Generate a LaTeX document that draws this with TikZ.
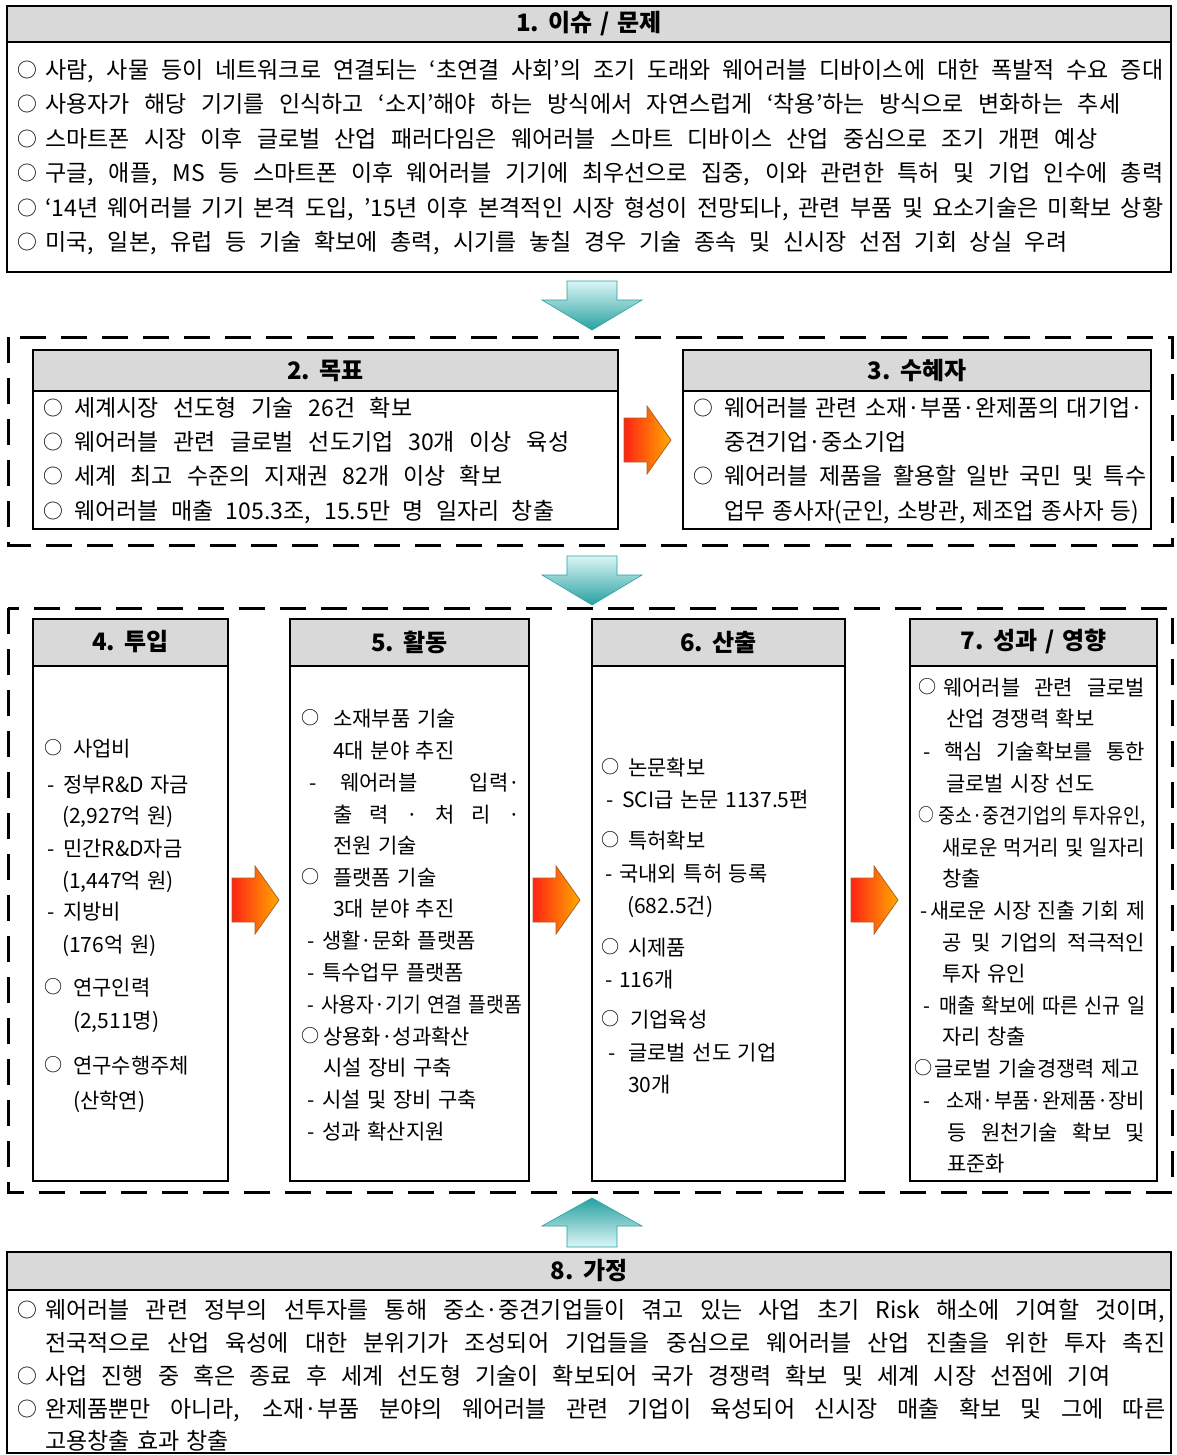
\documentclass[tikz,border=0pt]{standalone}
\usepackage{fontspec}
\usepackage{graphicx}
\setmainfont{Noto Sans CJK KR}[WordSpace=1.4]
\definecolor{hdrgray}{RGB}{217,217,217}
\definecolor{tealA}{RGB}{220,246,246}
\definecolor{tealB}{RGB}{100,200,200}
\definecolor{tealC}{RGB}{40,160,160}
\definecolor{orR}{RGB}{255,35,20}
\definecolor{orO}{RGB}{255,170,0}
\definecolor{orE}{RGB}{170,100,40}
\newsavebox\lnbox
\newdimen\lnw
\newcommand\JL[2]{\sbox\lnbox{#2}\ifdim\wd\lnbox>#1\relax\resizebox{#1}{\height}{\usebox\lnbox}\else\makebox[#1][s]{#2}\fi}
\newcommand\NL[2]{\sbox\lnbox{#2}\ifdim\wd\lnbox>#1\relax\resizebox{#1}{\height}{\usebox\lnbox}\else\usebox\lnbox\fi}
\newcommand\bul[1]{\makebox[#1][l]{\hspace{1pt}\raisebox{0.06em}{\scalebox{0.86}{○}}}}
\newcommand\dsh[1]{\makebox[#1][l]{-}}
\newcommand\fsA{\fontsize{23pt}{28pt}\selectfont}
\newcommand\fsB{\fontsize{21pt}{26pt}\selectfont}
\newcommand\fsT{\fontsize{24pt}{28pt}\selectfont\bfseries}
% justified line: name, style, x, baseline y, x end, text
\newcommand\TL[6]{\lnw=\dimexpr #5pt-#3pt\relax\node[#2] (#1) at (#3,#4) {\JL{\lnw}{#6}};}
% natural line (only squeezed if wider than the limit)
\newcommand\TN[6]{\lnw=\dimexpr #5pt-#3pt\relax\node[#2] (#1) at (#3,#4) {\NL{\lnw}{#6}};}
\tikzset{
  ta/.style={anchor=base west, inner sep=0pt, font=\fsA},
  tb/.style={anchor=base west, inner sep=0pt, font=\fsB},
  ttl/.style={inner sep=0pt, font=\fsT},
  boxframe/.style={draw=black, line width=2.8pt},
  hdr/.style={fill=hdrgray},
  hline/.style={draw=black, line width=1.2pt},
  dbox/.style={draw=black, line width=3pt, dash pattern=on 26pt off 15pt},
  tealdown/.style={top color=tealA, middle color=tealB, bottom color=tealC, draw=tealC, line width=0.6pt},
  tealup/.style={top color=tealC, middle color=tealB, bottom color=tealA, draw=tealC, line width=0.6pt},
  orarrow/.style={left color=orR, right color=orO, draw=orE, line width=0.8pt},
}
\begin{document}
\begin{tikzpicture}[x=1pt,y=-1pt]
\useasboundingbox (0,0) rectangle (1176,1455);
\fill[white] (0,0) rectangle (1176,1455);

% ---------- Box 1
\fill[hdr] (7,6) rectangle (1171,42);
\draw[hline] (7,42) -- (1171,42);
\draw[boxframe] (7,6) rectangle (1171,272);
\node[ttl] (t1) at (589,24) {1. 이슈 / 문제};
\TL{a1}{ta}{16}{78.5}{1163}{\bul{29pt}사람, 사물 등이 네트워크로 연결되는 ‘초연결 사회’의 조기 도래와 웨어러블 디바이스에 대한 폭발적 수요 증대}
\TL{a2}{ta}{16}{113}{1120}{\bul{29pt}사용자가 해당 기기를 인식하고 ‘소지’해야 하는 방식에서 자연스럽게 ‘착용’하는 방식으로 변화하는 추세}
\TL{a3}{ta}{16}{147.5}{1097}{\bul{29pt}스마트폰 시장 이후 글로벌 산업 패러다임은 웨어러블 스마트 디바이스 산업 중심으로 조기 개편 예상}
\TL{a4}{ta}{16}{182}{1163}{\bul{29pt}구글, 애플, MS 등 스마트폰 이후 웨어러블 기기에 최우선으로 집중, 이와 관련한 특허 및 기업 인수에 총력}
\TL{a5}{ta}{16}{216.5}{1163}{\bul{29pt}‘14년 웨어러블 기기 본격 도입, ’15년 이후 본격적인 시장 형성이 전망되나, 관련 부품 및 요소기술은 미확보 상황}
\TL{a6}{ta}{16}{251}{1067}{\bul{29pt}미국, 일본, 유럽 등 기술 확보에 총력, 시기를 놓칠 경우 기술 종속 및 신시장 선점 기회 상실 우려}

% ---------- arrow 1
\path[tealdown] (567,281) -- (617,281) -- (617,300) -- (642,300) -- (592,330) -- (542,300) -- (567,300) -- cycle;

% ---------- dashed group A
\draw[dbox] (8,337) rectangle (1172,545);
\fill[hdr] (33,350) rectangle (618,391);
\draw[hline] (33,391) -- (618,391);
\draw[boxframe] (33,350) rectangle (618,529);
\node[ttl] (t2) at (325.5,370.5) {2. 목표};
\TL{b1}{ta}{42}{416.5}{412}{\bul{32pt}세계시장 선도형 기술 26건 확보}
\TL{b2}{ta}{42}{450.5}{569}{\bul{32pt}웨어러블 관련 글로벌 선도기업 30개 이상 육성}
\TL{b3}{ta}{42}{484.5}{502}{\bul{32pt}세계 최고 수준의 지재권 82개 이상 확보}
\TL{b4}{ta}{42}{519.5}{554}{\bul{32pt}웨어러블 매출 105.3조, 15.5만 명 일자리 창출}

\path[orarrow] (624,418) -- (647,418) -- (647,406) -- (671,440) -- (647,474) -- (647,462) -- (624,462) -- cycle;

\fill[hdr] (683,350) rectangle (1151,391);
\draw[hline] (683,391) -- (1151,391);
\draw[boxframe] (683,350) rectangle (1151,529);
\node[ttl] (t3) at (917,370.5) {3. 수혜자};
\TL{c1}{ta}{692}{416.5}{1143}{\bul{32pt}웨어러블 관련 소재·부품·완제품의 대기업·}
\TN{c2}{ta}{724}{450.5}{909}{중견기업·중소기업}
\TL{c3}{ta}{692}{484.5}{1146}{\bul{32pt}웨어러블 제품을 활용할 일반 국민 및 특수}
\TL{c4}{ta}{724}{519.5}{1139}{업무 종사자(군인, 소방관, 제조업 종사자 등)}

% ---------- arrow 2
\path[tealdown] (567,556) -- (617,556) -- (617,575) -- (642,575) -- (592,605) -- (542,575) -- (567,575) -- cycle;

% ---------- dashed group B
\draw[dbox] (8,608) rectangle (1172,1192);

% box 4
\fill[hdr] (33,619) rectangle (228,666);
\draw[hline] (33,666) -- (228,666);
\draw[boxframe] (33,619) rectangle (228,1181);
\node[ttl] (t4) at (130.5,642) {4. 투입};
\TN{d1}{tb}{43}{756}{137}{\bul{30pt}사업비}
\TN{d2}{tb}{47}{792}{218}{\dsh{16pt}정부R\&D 자금}
\TN{d3}{tb}{62}{823}{200}{(2,927억 원)}
\TN{d4}{tb}{47}{856}{218}{\dsh{16pt}민간R\&D자금}
\TN{d5}{tb}{62}{888}{200}{(1,447억 원)}
\TN{d6}{tb}{47}{919}{140}{\dsh{16pt}지방비}
\TN{d7}{tb}{62}{952}{200}{(176억 원)}
\TN{d8}{tb}{43}{995}{170}{\bul{30pt}연구인력}
\TN{d9}{tb}{73}{1028}{170}{(2,511명)}
\TN{d10}{tb}{43}{1073}{218}{\bul{30pt}연구수행주체}
\TN{d11}{tb}{73}{1108}{170}{(산학연)}

\path[orarrow] (232,878) -- (255,878) -- (255,866) -- (279,900) -- (255,934) -- (255,922) -- (232,922) -- cycle;

% box 5
\fill[hdr] (290,619) rectangle (529,666);
\draw[hline] (290,666) -- (529,666);
\draw[boxframe] (290,619) rectangle (529,1181);
\node[ttl] (t5) at (409.5,642) {5. 활동};
\TN{e1}{tb}{300}{726}{520}{\bul{33pt}소재부품 기술}
\TN{e2}{tb}{333}{758}{520}{4대 분야 추진}
\TL{e3}{tb}{309}{790}{520}{\dsh{31pt}웨어러블 입력·}
\TL{e4}{tb}{333}{822}{520}{출 력 · 처 리 ·}
\TN{e5}{tb}{333}{853}{520}{전원 기술}
\TN{e6}{tb}{300}{885}{520}{\bul{33pt}플랫폼 기술}
\TN{e7}{tb}{333}{916}{520}{3대 분야 추진}
\TN{e8}{tb}{307}{948}{520}{\dsh{15pt}생활·문화 플랫폼}
\TN{e9}{tb}{307}{980}{520}{\dsh{15pt}특수업무 플랫폼}
\TN{e10}{tb}{307}{1012}{522}{\dsh{15pt}사용자·기기 연결 플랫폼}
\TN{e11}{tb}{300}{1044}{520}{\bul{23pt}상용화·성과확산}
\TN{e12}{tb}{323}{1075}{520}{시설 장비 구축}
\TN{e13}{tb}{307}{1107}{520}{\dsh{15pt}시설 및 장비 구축}
\TN{e14}{tb}{307}{1139}{520}{\dsh{15pt}성과 확산지원}

\path[orarrow] (533,878) -- (556,878) -- (556,866) -- (580,900) -- (556,934) -- (556,922) -- (533,922) -- cycle;

% box 6
\fill[hdr] (592,619) rectangle (845,666);
\draw[hline] (592,666) -- (845,666);
\draw[boxframe] (592,619) rectangle (845,1181);
\node[ttl] (t6) at (718.5,642) {6. 산출};
\TN{f1}{tb}{600}{775}{835}{\bul{28pt}논문확보}
\TN{f2}{tb}{606}{807}{835}{\dsh{16pt}SCI급 논문 1137.5편}
\TN{f3}{tb}{600}{848}{835}{\bul{28pt}특허확보}
\TN{f4}{tb}{605}{881}{835}{\dsh{14pt}국내외 특허 등록}
\TN{f5}{tb}{627}{913}{835}{(682.5건)}
\TN{f6}{tb}{600}{955}{835}{\bul{28pt}시제품}
\TN{f7}{tb}{605}{987}{835}{\dsh{14pt}116개}
\TN{f8}{tb}{600}{1027}{835}{\bul{30pt}기업육성}
\TN{f9}{tb}{608}{1060}{835}{\dsh{20pt}글로벌 선도 기업}
\TN{f10}{tb}{628}{1092}{835}{30개}

\path[orarrow] (851,878) -- (874,878) -- (874,866) -- (898,900) -- (874,934) -- (874,922) -- (851,922) -- cycle;

% box 7
\fill[hdr] (910,619) rectangle (1157,666);
\draw[hline] (910,666) -- (1157,666);
\draw[boxframe] (910,619) rectangle (1157,1181);
\node[ttl] (t7) at (1033.5,642) {7. 성과 / 영향};
\TL{g1}{tb}{917}{695}{1145}{\bul{26pt}웨어러블 관련 글로벌}
\TN{g2}{tb}{946}{726}{1145}{산업 경쟁력 확보}
\TL{g3}{tb}{923}{759}{1145}{\dsh{21pt}핵심 기술확보를 통한}
\TN{g4}{tb}{946}{791}{1145}{글로벌 시장 선도}
\TL{g5}{tb}{917}{823}{1145}{\bul{25pt}중소·중견기업의 투자유인,}
\TL{g6}{tb}{942}{855}{1145}{새로운 먹거리 및 일자리}
\TN{g7}{tb}{942}{886}{1145}{창출}
\TL{g8}{tb}{920}{918}{1145}{\dsh{10pt}새로운 시장 진출 기회 제}
\TL{g9}{tb}{942}{950}{1145}{공 및 기업의 적극적인}
\TN{g10}{tb}{942}{981}{1145}{투자 유인}
\TL{g11}{tb}{923}{1013}{1145}{\dsh{17pt}매출 확보에 따른 신규 일}
\TN{g12}{tb}{942}{1044}{1145}{자리 창출}
\TN{g13}{tb}{913}{1076}{1140}{\bul{21pt}글로벌 기술경쟁력 제고}
\TL{g14}{tb}{923}{1108}{1145}{\dsh{24pt}소재·부품·완제품·장비}
\TL{g15}{tb}{947}{1140}{1145}{등 원천기술 확보 및}
\TN{g16}{tb}{947}{1171}{1145}{표준화}

% ---------- arrow up
\path[tealup] (592,1198) -- (642,1226) -- (617,1226) -- (617,1247) -- (567,1247) -- (567,1226) -- (542,1226) -- cycle;

% ---------- Box 8
\fill[hdr] (7,1252) rectangle (1171,1290);
\draw[hline] (7,1290) -- (1171,1290);
\draw[boxframe] (7,1252) rectangle (1171,1453);
\node[ttl] (t8) at (589,1271) {8. 가정};
\TL{h1}{ta}{16}{1318.5}{1165}{\bul{29pt}웨어러블 관련 정부의 선투자를 통해 중소·중견기업들이 겪고 있는 사업 초기 Risk 해소에 기여할 것이며,}
\TL{h2}{ta}{45}{1351.5}{1165}{전국적으로 산업 육성에 대한 분위기가 조성되어 기업들을 중심으로 웨어러블 산업 진출을 위한 투자 촉진}
\TL{h3}{ta}{16}{1384.5}{1110}{\bul{29pt}사업 진행 중 혹은 종료 후 세계 선도형 기술이 확보되어 국가 경쟁력 확보 및 세계 시장 선점에 기여}
\TL{h4}{ta}{16}{1417.5}{1165}{\bul{29pt}완제품뿐만 아니라, 소재·부품 분야의 웨어러블 관련 기업이 육성되어 신시장 매출 확보 및 그에 따른}
\TN{h5}{ta}{45}{1449.5}{1165}{고용창출 효과 창출}
\end{tikzpicture}
\end{document}
